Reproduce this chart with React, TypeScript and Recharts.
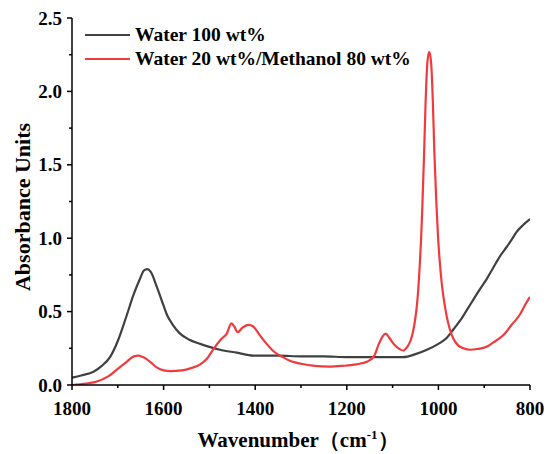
import React from 'react'
import { LineChart, Line, XAxis, YAxis, Legend } from 'recharts'

// wavenumber (cm-1) / absorbance
const waterX = [1800, 1780, 1753, 1735, 1717, 1700, 1681, 1665, 1652, 1643, 1636, 1628, 1615, 1600, 1593, 1580, 1564, 1545, 1520, 1500, 1477, 1440, 1404, 1350, 1300, 1250, 1200, 1150, 1100, 1077, 1050, 1025, 1000, 982, 967, 950, 938, 924, 910, 895, 880, 865, 851, 840, 830, 815, 800]
const waterY = [0.05, 0.065, 0.09, 0.13, 0.19, 0.3, 0.47, 0.62, 0.72, 0.78, 0.79, 0.77, 0.67, 0.54, 0.48, 0.41, 0.35, 0.31, 0.28, 0.26, 0.24, 0.22, 0.2, 0.2, 0.195, 0.195, 0.19, 0.19, 0.19, 0.19, 0.21, 0.24, 0.28, 0.32, 0.38, 0.45, 0.51, 0.58, 0.65, 0.72, 0.8, 0.88, 0.94, 0.99, 1.04, 1.09, 1.13]

const mixX = [1800, 1770, 1750, 1720, 1700, 1680, 1665, 1655, 1645, 1630, 1615, 1600, 1585, 1560, 1540, 1520, 1505, 1490, 1475, 1462, 1452, 1446, 1438, 1428, 1415, 1405, 1390, 1375, 1360, 1340, 1320, 1300, 1270, 1240, 1210, 1180, 1155, 1140, 1130, 1122, 1115, 1107, 1095, 1085, 1077, 1068, 1060, 1055, 1051, 1047, 1044, 1041, 1038, 1035, 1031, 1028, 1024, 1020, 1016, 1012, 1009, 1005, 1001, 997, 993, 988, 982, 976, 968, 957, 945, 931, 915, 895, 880, 858, 840, 822, 810, 800]
const mixY = [0.0, 0.01, 0.02, 0.06, 0.11, 0.16, 0.195, 0.2, 0.19, 0.16, 0.12, 0.1, 0.095, 0.1, 0.115, 0.14, 0.18, 0.25, 0.31, 0.35, 0.42, 0.4, 0.36, 0.39, 0.41, 0.4, 0.34, 0.28, 0.23, 0.19, 0.16, 0.145, 0.13, 0.125, 0.13, 0.14, 0.16, 0.2, 0.28, 0.33, 0.35, 0.32, 0.27, 0.245, 0.235, 0.26, 0.31, 0.37, 0.44, 0.54, 0.65, 0.8, 0.98, 1.22, 1.6, 1.92, 2.2, 2.27, 2.2, 1.92, 1.6, 1.28, 1.02, 0.84, 0.7, 0.58, 0.47, 0.39, 0.32, 0.27, 0.25, 0.24, 0.245, 0.26, 0.29, 0.34, 0.41, 0.48, 0.55, 0.6]

const xTicks = [800, 900, 1000, 1100, 1200, 1300, 1400, 1500, 1600, 1700, 1800]
const yTicks = [0, 0.25, 0.5, 0.75, 1, 1.25, 1.5, 1.75, 2, 2.25, 2.5]

const waterData = waterX.map((x, i) => ({ x, y: waterY[i] }))
const mixData = mixX.map((x, i) => ({ x, y: mixY[i] }))

const FONT = '"Liberation Serif", "Times New Roman", serif'

const XTick = (props: any) => {
  const { x, y, payload } = props
  const major = payload.value % 200 === 0
  return (
    <g>
      <line x1={x} x2={x} y1={y} y2={y + (major ? 5 : 3)} stroke="#000" strokeWidth={1.5} />
      {major && (
        <text x={x} y={y + 30} textAnchor="middle" fontFamily={FONT} fontWeight="bold" fontSize={19} fill="#000">
          {payload.value}
        </text>
      )}
    </g>
  )
}

const YTick = (props: any) => {
  const { x, y, payload } = props
  const major = Math.round(payload.value * 100) % 50 === 0
  return (
    <g>
      <line x1={x - (major ? 5 : 3)} x2={x} y1={y} y2={y} stroke="#000" strokeWidth={1.5} />
      {major && (
        <text x={x - 10} y={y} dy="0.35em" textAnchor="end" fontFamily={FONT} fontWeight="bold" fontSize={19} fill="#000">
          {payload.value.toFixed(1)}
        </text>
      )}
    </g>
  )
}

const LegendBox = (props: any) => {
  const { payload } = props
  return (
    <div style={{ fontFamily: FONT, fontWeight: 'bold', fontSize: 19.5 }}>
      {(payload || []).map((p: any) => (
        <div key={p.value} style={{ display: 'flex', alignItems: 'center', height: 24, lineHeight: '24px', whiteSpace: 'nowrap' }}>
          <div style={{ width: 45, height: 2.5, background: p.color, marginRight: 5 }} />
          <span style={{ color: '#000' }}>{p.value}</span>
        </div>
      ))}
    </div>
  )
}

export default function App() {
  return (
    <div style={{ position: 'absolute', left: 0, top: 0, width: 548, height: 454, background: '#fff' }}>
      <LineChart width={548} height={454} margin={{ top: 18, right: 18, bottom: 0, left: 0 }}>
        <XAxis
          type="number"
          dataKey="x"
          domain={[800, 1800]}
          reversed
          allowDataOverflow
          ticks={xTicks}
          interval={0}
          height={69}
          tickSize={0}
          tickMargin={0}
          tickLine={false}
          tick={<XTick />}
          axisLine={{ stroke: '#000', strokeWidth: 1.5 }}
          label={{
            content: () => (
              <text x={298} y={447} textAnchor="middle" fontFamily={FONT} fontWeight="bold" fontSize={21} fill="#000">
                Wavenumber（cm<tspan dy={-8} fontSize={13}>-1</tspan><tspan dy={8}>）</tspan>
              </text>
            ),
          }}
        />
        <YAxis
          type="number"
          dataKey="y"
          domain={[0, 2.5]}
          allowDataOverflow
          ticks={yTicks}
          interval={0}
          width={72}
          tickSize={0}
          tickMargin={0}
          tickLine={false}
          tick={<YTick />}
          axisLine={{ stroke: '#000', strokeWidth: 1.5 }}
          label={{
            content: () => (
              <text x={30} y={207} transform="rotate(-90, 30, 207)" textAnchor="middle" fontFamily={FONT} fontWeight="bold" fontSize={22} fill="#000">
                Absorbance Units
              </text>
            ),
          }}
        />
        <Legend
          layout="horizontal"
          verticalAlign="middle"
          align="center"
          content={<LegendBox />}
          wrapperStyle={{ position: 'absolute', left: 85, top: 23, width: 'auto', height: 'auto' }}
        />
        <Line data={waterData} dataKey="y" name="Water 100 wt%" type="monotone" stroke="#404040" strokeWidth={2.2} dot={false} isAnimationActive={false} />
        <Line data={mixData} dataKey="y" name="Water 20 wt%/Methanol 80 wt%" type="monotone" stroke="#f03a3e" strokeWidth={2.2} dot={false} isAnimationActive={false} />
      </LineChart>
    </div>
  )
}
